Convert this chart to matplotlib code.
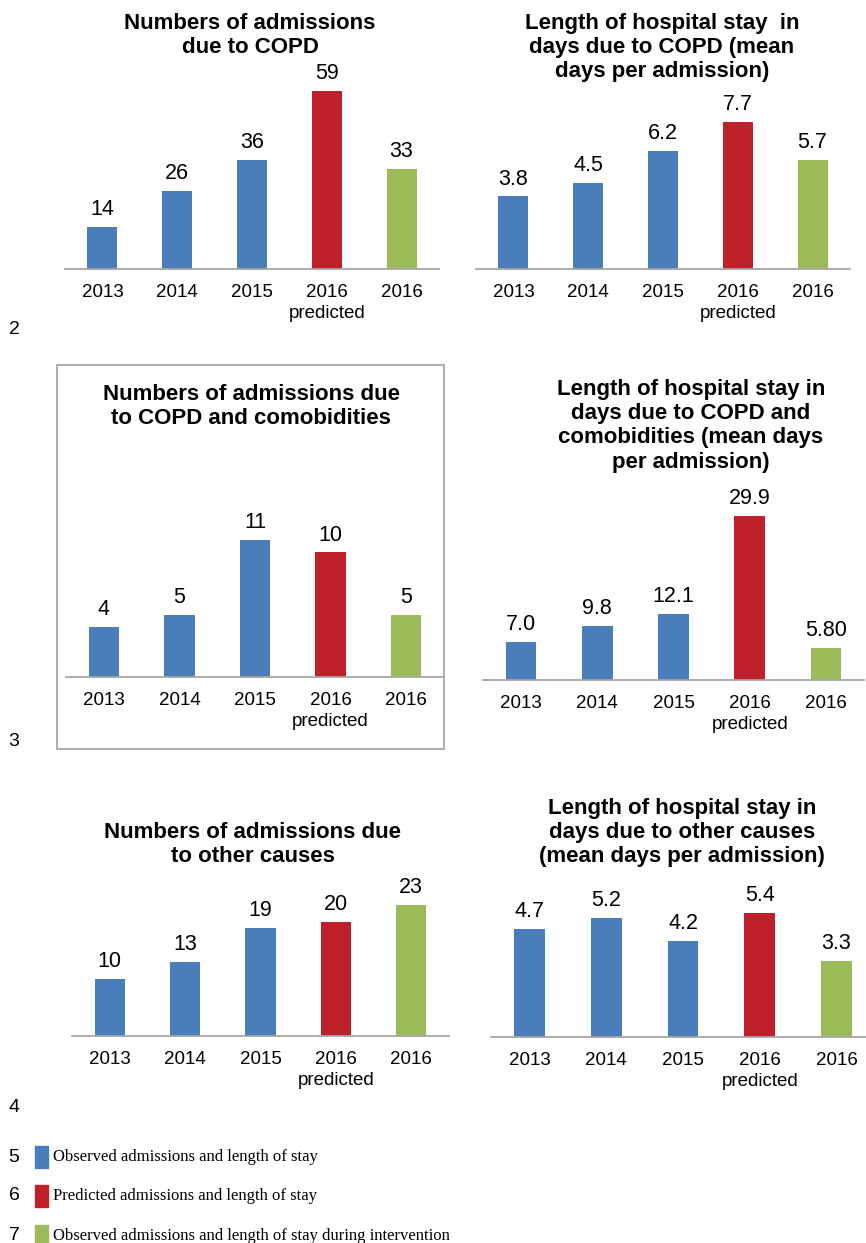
import matplotlib
matplotlib.use("Agg")
import matplotlib.pyplot as plt
from matplotlib.patches import Rectangle

plt.rcParams["font.family"] = ["Liberation Sans", "DejaVu Sans"]

# ---- data ----
categories = ["2013", "2014", "2015", "2016\npredicted", "2016"]
bar_colors = ["#4a7ebb", "#4a7ebb", "#4a7ebb", "#c0202a", "#9bbb59"]

adm_copd = [14, 26, 36, 59, 33]
los_copd = [3.8, 4.5, 6.2, 7.7, 5.7]
adm_comorb = [4, 5, 11, 10, 5]
los_comorb = [7.0, 9.8, 12.1, 29.9, 5.80]
adm_other = [10, 13, 19, 20, 23]
los_other = [4.7, 5.2, 4.2, 5.4, 3.3]

labels_copd_adm = ["14", "26", "36", "59", "33"]
labels_copd_los = ["3.8", "4.5", "6.2", "7.7", "5.7"]
labels_comorb_adm = ["4", "5", "11", "10", "5"]
labels_comorb_los = ["7.0", "9.8", "12.1", "29.9", "5.80"]
labels_other_adm = ["10", "13", "19", "20", "23"]
labels_other_los = ["4.7", "5.2", "4.2", "5.4", "3.3"]

titles = [
    "Numbers of admissions\ndue to COPD",
    "Length of hospital stay  in\ndays due to COPD (mean\ndays per admission)",
    "Numbers of admissions due\nto COPD and comobidities",
    "Length of hospital stay in\ndays due to COPD and\ncomobidities (mean days\nper admission)",
    "Numbers of admissions due\nto other causes",
    "Length of hospital stay in\ndays due to other causes\n(mean days per admission)",
]

legend_labels = [
    "Observed admissions and length of stay",
    "Predicted admissions and length of stay",
    "Observed admissions and length of stay during intervention",
]

W, H = 866, 1243
fig = plt.figure(figsize=(W / 100, H / 100), dpi=100)

# layout in pixels: x0, x1, baseline, top of tallest bar, title x, title top y
panels = [
    (adm_copd, labels_copd_adm, 65, 439, 269, 91, 250, 13),
    (los_copd, labels_copd_los, 476, 850, 269, 122, 662, 13),
    (adm_comorb, labels_comorb_adm, 66, 444, 677, 540, 251, 384),
    (los_comorb, labels_comorb_los, 483, 864, 680, 516, 691, 379),
    (adm_other, labels_other_adm, 72, 449, 1036, 905, 253, 822),
    (los_other, labels_other_los, 491, 875, 1037, 913, 682, 798),
]

for i, (vals, labs, x0, x1, base, maxtop, tx, ty) in enumerate(panels):
    top = maxtop - 40
    ax = fig.add_axes([x0 / W, (H - base) / H, (x1 - x0) / W, (base - top) / H])
    ymax = max(vals) * (base - top) / (base - maxtop)
    x = range(len(vals))
    bars = ax.bar(x, vals, width=0.4, color=bar_colors)
    ax.bar_label(bars, labels=labs, padding=5, fontsize=15.5)
    ax.set_xlim(-0.5, len(vals) - 0.5)
    ax.set_ylim(0, ymax)
    ax.set_xticks(list(x))
    ax.set_xticklabels(categories, fontsize=13.5, linespacing=1.25)
    ax.tick_params(axis="x", length=0, pad=11)
    ax.set_yticks([])
    for s in ["top", "left", "right"]:
        ax.spines[s].set_visible(False)
    ax.spines["bottom"].set_color("#a6a6a6")
    ax.spines["bottom"].set_linewidth(1.3)
    ax.patch.set_alpha(0)
    fig.text(tx / W, 1 - ty / H, titles[i], ha="center", va="top",
             fontsize=16, fontweight="bold", linespacing=1.2)

# frame around the comorbidities admissions chart
fig.add_artist(Rectangle((57 / W, 1 - 749 / H), (444 - 57) / W, (749 - 365) / H,
                         transform=fig.transFigure, fill=False,
                         edgecolor="#a6a6a6", linewidth=1.3))

# side numbers
for num, y in [("2", 329), ("3", 742), ("4", 1107), ("5", 1157), ("6", 1196), ("7", 1236)]:
    fig.text(14 / W, 1 - y / H, num, ha="center", va="center", fontsize=14)

# legend
for color, label, y in zip(bar_colors[2:], legend_labels, [1157, 1196, 1236]):
    fig.add_artist(Rectangle((35 / W, 1 - (y + 11) / H), 13 / W, 22 / H,
                             transform=fig.transFigure, color=color))
    fig.text(53 / W, 1 - y / H, label, ha="left", va="center",
             fontsize=12, family=["Liberation Serif", "DejaVu Serif"])

fig.savefig("out.png", dpi=100)
